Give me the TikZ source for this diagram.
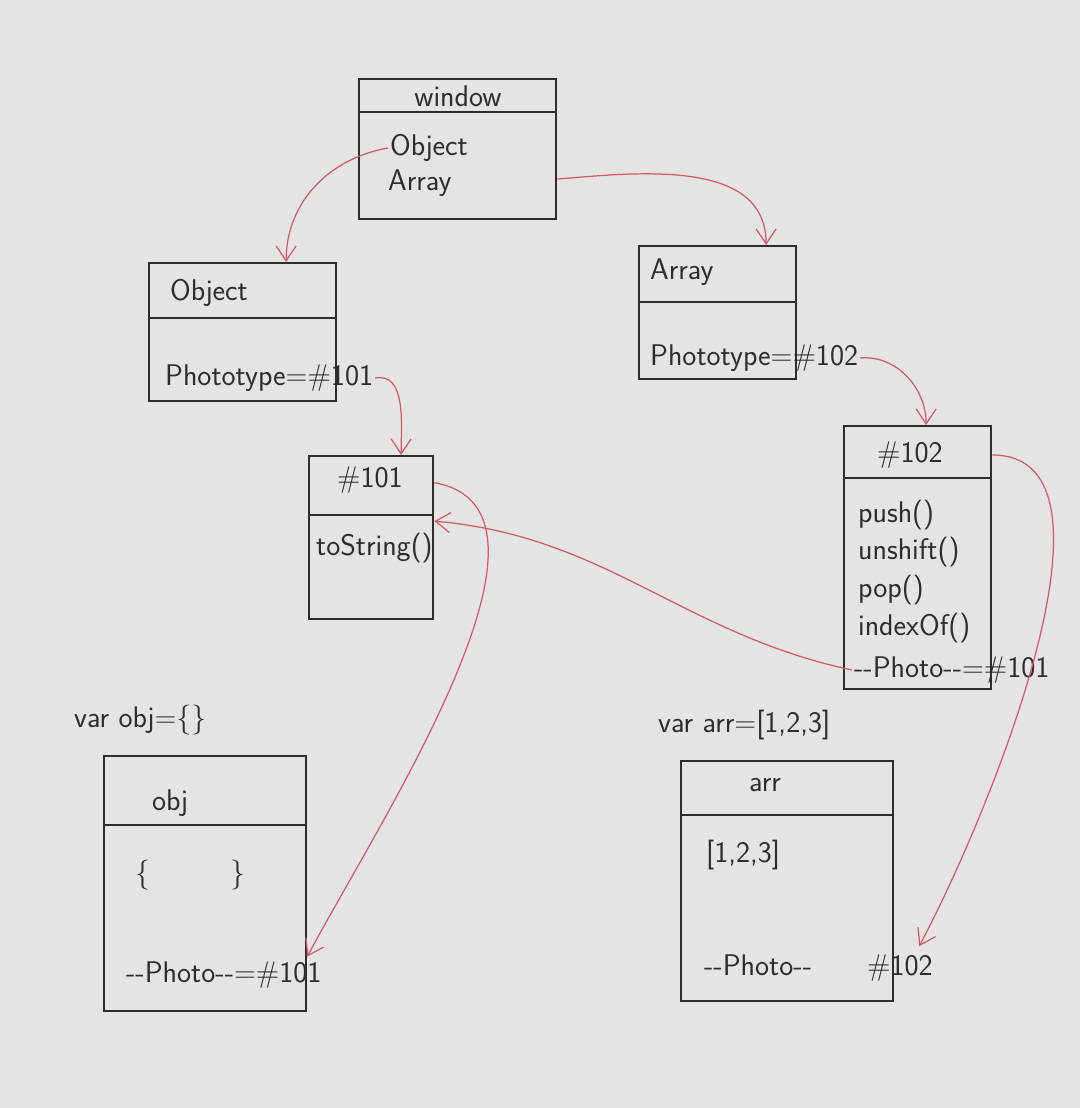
\documentclass[tikz,border=0pt]{standalone}
\usetikzlibrary{arrows.meta}

\definecolor{paper}{RGB}{228,228,226}
\definecolor{ink}{RGB}{45,45,45}
\definecolor{pen}{RGB}{214,88,108}

\newcommand{\dd}{{-}{-}}

\tikzset{
    box/.style={draw=ink, line width=1.3pt, anchor=north west, inner sep=0pt},
    txt/.style={text=ink, anchor=west, inner sep=1pt, font=\sffamily\fontsize{17}{20}\selectfont},
    link/.style={draw=pen, line width=0.7pt, -{Straight Barb[length=3mm,width=4mm]}},
}

\begin{document}
\begin{tikzpicture}[x=0.02cm, y=-0.02cm]

    \fill[paper] (0,0) rectangle (1080,1108); % paper
    \useasboundingbox (0,0) rectangle (1080,1108);

    % window
    \node[box, minimum width=3.94cm, minimum height=2.8cm] (win) at (358,78) {};
    \draw[ink, line width=1.3pt] (win.west |- 0,112) -- (win.east |- 0,112);
    \node[txt, anchor=center] (winhead) at (458,96) {window};
    \node[txt] (winobj) at (388,148) {Object};
    \node[txt] (winarr) at (386,183) {Array};

    % Object
    \node[box, minimum width=3.74cm, minimum height=2.76cm] (objc) at (148,262) {};
    \draw[ink, line width=1.3pt] (objc.west |- 0,318) -- (objc.east |- 0,318);
    \node[txt] (objchead) at (168,293) {Object};
    \node[txt] (objcproto) at (163,378) {Phototype=\#101};

    % Array
    \node[box, minimum width=3.14cm, minimum height=2.66cm] (arrc) at (638,245) {};
    \draw[ink, line width=1.3pt] (arrc.west |- 0,302) -- (arrc.east |- 0,302);
    \node[txt] (arrchead) at (648,272) {Array};
    \node[txt] (arrcproto) at (648,358) {Phototype=\#102};

    % #101
    \node[box, minimum width=2.48cm, minimum height=3.26cm] (p101) at (308,455) {};
    \draw[ink, line width=1.3pt] (p101.west |- 0,515) -- (p101.east |- 0,515);
    \node[txt, anchor=center] (p101head) at (370,480) {\#101};
    \node[txt] (p101str) at (314,548) {toString()};

    % #102
    \node[box, minimum width=2.94cm, minimum height=5.26cm] (p102) at (843,425) {};
    \draw[ink, line width=1.3pt] (p102.west |- 0,478) -- (p102.east |- 0,478);
    \node[txt, anchor=center] (p102head) at (910,455) {\#102};
    \node[txt] (p102push) at (856,515) {push()};
    \node[txt] (p102unshift) at (856,552) {unshift()};
    \node[txt] (p102pop) at (856,590) {pop()};
    \node[txt] (p102index) at (856,628) {indexOf()};
    \node[txt] (p102proto) at (852,670) {\dd Photo\dd=\#101};

    % obj
    \node[txt] (objvar) at (72,720) {var obj=\{\}};
    \node[box, minimum width=4.04cm, minimum height=5.1cm] (obj) at (103,755) {};
    \draw[ink, line width=1.3pt] (obj.west |- 0,825) -- (obj.east |- 0,825);
    \node[txt] (objhead) at (150,803) {obj};
    \node[txt] (objval) at (133,875) {\{\hspace{1.6cm}\}};
    \node[txt] (objproto) at (124,975) {\dd Photo\dd=\#101};

    % arr
    \node[txt] (arrvar) at (656,725) {var arr=[1,2,3]};
    \node[box, minimum width=4.24cm, minimum height=4.8cm] (arr) at (680,760) {};
    \draw[ink, line width=1.3pt] (arr.west |- 0,815) -- (arr.east |- 0,815);
    \node[txt, anchor=center] (arrhead) at (765,785) {arr};
    \node[txt] (arrval) at (704,855) {[1,2,3]};
    \node[txt] (arrproto) at (702,968) {\dd Photo\dd\hspace{1.1cm}\#102};

    % links
    \draw[link] (winobj.west) to[out=190, in=90] ([xshift=0.87cm]objc.north);
    \draw[link] ([yshift=-0.6cm]win.east) to[out=5, in=90] ([xshift=0.97cm]arrc.north);
    \draw[link] (objcproto.east) to[out=10, in=90] ([xshift=0.6cm]p101.north);
    \draw[link] (arrcproto.east) to[out=5, in=90] ([xshift=0.17cm]p102.north);
    \draw[link] (p102proto.west) to[out=168, in=-5] ([yshift=0.33cm]p101.east);
    \draw[link] ([yshift=1.1cm]p101.east) to[out=-10, in=62, looseness=0.8] ([yshift=-1.46cm]obj.east);
    \draw[link] ([yshift=-0.6cm]p102.north east) to[out=0, in=62, looseness=0.75] ([xshift=0.5cm, yshift=-1.3cm]arr.east);

\end{tikzpicture}
\end{document}
